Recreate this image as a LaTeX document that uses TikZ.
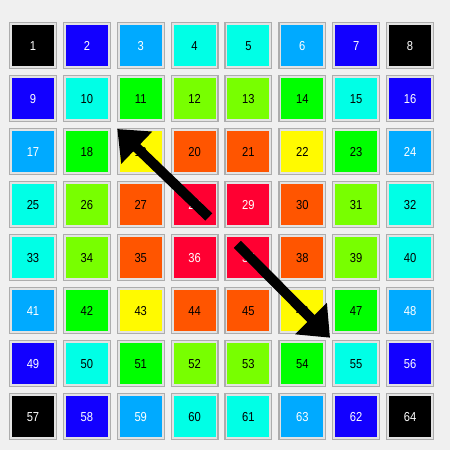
\documentclass[tikz,border=0pt]{standalone}
\usepackage{fontspec}
\setmainfont{Liberation Sans}[FakeStretch=0.86]
\usetikzlibrary{arrows.meta}
\definecolor{cK}{RGB}{0,0,0}
\definecolor{cB}{RGB}{18,0,255}
\definecolor{cS}{RGB}{0,170,255}
\definecolor{cC}{RGB}{0,255,230}
\definecolor{cG}{RGB}{0,255,0}
\definecolor{cL}{RGB}{120,255,0}
\definecolor{cY}{RGB}{255,250,0}
\definecolor{cO}{RGB}{255,85,0}
\definecolor{cR}{RGB}{255,0,50}
\colorlet{tK}{white}
\colorlet{tB}{white}
\colorlet{tS}{white}
\colorlet{tR}{white}
\colorlet{tC}{black}
\colorlet{tG}{black}
\colorlet{tL}{black}
\colorlet{tY}{black}
\colorlet{tO}{black}
\definecolor{bgc}{RGB}{240,240,240}
\definecolor{framefill}{RGB}{227,227,227}
\definecolor{framedraw}{RGB}{173,173,173}
\begin{document}
\begin{tikzpicture}[x=1pt,y=-1pt,
  frame/.style={draw=framedraw,fill=framefill,line width=1.2pt,inner sep=0pt,
    minimum width=46.8pt,minimum height=45.8pt},
  tile/.style={inner sep=0pt,minimum width=42pt,minimum height=41pt,
    text height=9.3pt,text depth=0pt,
    font=\fontsize{13}{15}\selectfont},
  bigarrow/.style={line width=10pt,-{Triangle[width=43pt,length=27pt]}}]
\fill[bgc] (0,0) rectangle (450,450);
\useasboundingbox (0,0) rectangle (450,450);
\foreach \r/\row in {1/{K,B,S,C,C,S,B,K},2/{B,C,G,L,L,G,C,B},3/{S,G,Y,O,O,Y,G,S},
  4/{C,L,O,R,R,O,L,C},5/{C,L,O,R,R,O,L,C},6/{S,G,Y,O,O,Y,G,S},
  7/{B,C,G,L,L,G,C,B},8/{K,B,S,C,C,S,B,K}} {
  \foreach \c [count=\i] in \row {
    \pgfmathtruncatemacro\n{(\r-1)*8+\i}
    \pgfmathsetmacro\xx{9+53.86*(\i-1)+24}
    \pgfmathsetmacro\yy{22+53*(\r-1)+23.5}
    \ifnum\n=62 \def\lab{63}\else\ifnum\n=63 \def\lab{62}\else\edef\lab{\n}\fi\fi
    \node[frame] (f\n) at (\xx,\yy) {};
    \node[tile,fill=c\c,text=t\c] (t\n) at (f\n) {\lab};
  }
}
\coordinate (a1s) at (208.8,217);
\coordinate (a1e) at (117.3,129);
\coordinate (a2s) at (237.3,244.3);
\coordinate (a2e) at (330,337.7);
\draw[bigarrow] (a1s) -- (a1e);
\draw[bigarrow] (a2s) -- (a2e);
\end{tikzpicture}
\end{document}
